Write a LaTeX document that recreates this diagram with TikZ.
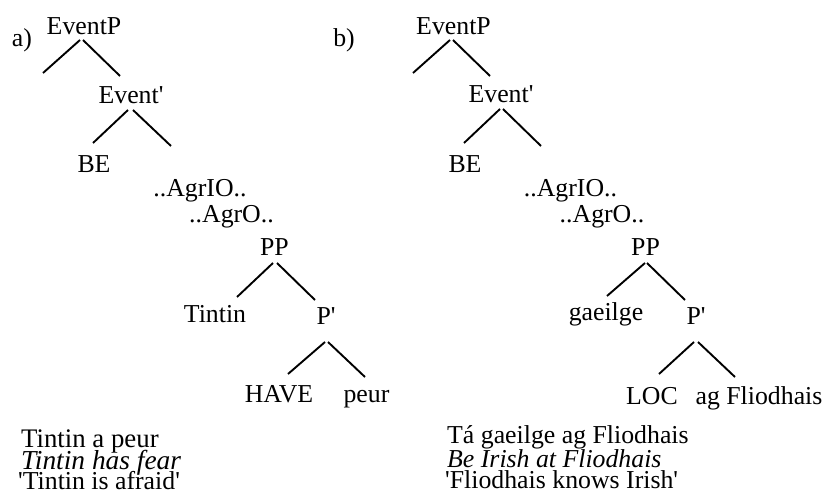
\documentclass[tikz,border=0pt]{standalone}
\usepackage{fontspec}
\setmainfont{Liberation Serif}
\newcommand{\sq}{\textquotesingle}
\begin{document}
\begin{tikzpicture}[x=1pt,y=-1pt,
  lbl/.style={inner sep=0pt,anchor=base,font=\fontsize{25.8}{26}\selectfont},
  lbll/.style={lbl,anchor=base west},
  branch/.style={line width=1.9pt}]
\useasboundingbox (0,0) rectangle (828,497);
% ---------- a) ----------
\node[lbl] (alabel) at (22,47) {a)};
\node[lbl] (aEP) at (84,35) {EventP};
\node[lbl] (aEbar) at (131,104) {Event\sq};
\node[lbl] (aBE) at (94,173) {BE};
\node[lbl] (aAgrIO) at (200,197) {..AgrIO..};
\node[lbl] (aAgrO) at (231.5,223) {..AgrO..};
\node[lbl] (aPP) at (274.5,256) {PP};
\node[lbl] (aTintin) at (215,323) {Tintin};
\node[lbl] (aPbar) at (326,325) {P\sq};
\node[lbl] (aHAVE) at (279,402) {HAVE};
\node[lbl] (apeur) at (366.5,402) {peur};
\node[lbll,font=\fontsize{26.8}{27}\selectfont] (aex1) at (21,447) {Tintin a peur};
\node[lbll,font=\fontsize{27.4}{27}\selectfont] (aex2) at (21,469) {\itshape Tintin has fear};
\node[lbll] (aex3) at (18,489) {\sq Tintin is afraid\sq};
\coordinate (a1t) at (80,40);   \coordinate (a1b) at (43,73);
\coordinate (a2t) at (83,40);   \coordinate (a2b) at (120,76);
\coordinate (a3t) at (128,110); \coordinate (a3b) at (93,143);
\coordinate (a4t) at (133,110); \coordinate (a4b) at (171,146);
\coordinate (a5t) at (273,263); \coordinate (a5b) at (237,297);
\coordinate (a6t) at (277,263); \coordinate (a6b) at (315,300);
\coordinate (a7t) at (325,342); \coordinate (a7b) at (288,374);
\coordinate (a8t) at (328,342); \coordinate (a8b) at (365,377);
\foreach \i in {1,...,8} {\draw[branch] (a\i t) -- (a\i b);}
% ---------- b) ----------
\node[lbl] (blabel) at (344,47) {b)};
\node[lbl] (bEP) at (453.5,35) {EventP};
\node[lbl] (bEbar) at (501,103) {Event\sq};
\node[lbl] (bBE) at (465,173) {BE};
\node[lbl] (bAgrIO) at (570.5,197) {..AgrIO..};
\node[lbl] (bAgrO) at (602,223) {..AgrO..};
\node[lbl] (bPP) at (645.5,256) {PP};
\node[lbl] (bgaeilge) at (606,320) {gaeilge};
\node[lbl] (bPbar) at (696,324) {P\sq};
\node[lbl] (bLOC) at (652,404) {LOC};
\node[lbl] (bag) at (759,404) {ag Fliodhais};
\node[lbll] (bex1) at (447,443) {Tá gaeilge ag Fliodhais};
\node[lbll] (bex2) at (447,467) {\itshape Be Irish at Fliodhais};
\node[lbll] (bex3) at (445,488) {\sq Fliodhais knows Irish\sq};
\coordinate (b1t) at (450,40);  \coordinate (b1b) at (413,73);
\coordinate (b2t) at (453,40);  \coordinate (b2b) at (490,76);
\coordinate (b3t) at (500,109); \coordinate (b3b) at (464,143);
\coordinate (b4t) at (503,109); \coordinate (b4b) at (541,146);
\coordinate (b5t) at (645,263); \coordinate (b5b) at (607,296);
\coordinate (b6t) at (647,263); \coordinate (b6b) at (685,300);
\coordinate (b7t) at (694,342); \coordinate (b7b) at (659,374);
\coordinate (b8t) at (698,342); \coordinate (b8b) at (735,377);
\foreach \i in {1,...,8} {\draw[branch] (b\i t) -- (b\i b);}
\end{tikzpicture}
\end{document}
